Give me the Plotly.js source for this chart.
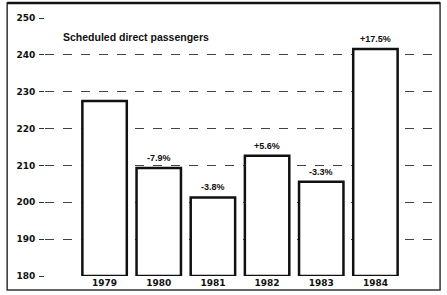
<!DOCTYPE html>
<html><head><meta charset="utf-8">
<script src="https://cdn.plot.ly/plotly-3.0.1.min.js"></script>
<style>html,body{margin:0;padding:0;background:#fff;}#c{width:447px;height:295px;}</style>
</head><body><div id="c"></div>
<script>
const years = ['1979','1980','1981','1982','1983','1984'];
const passengers = [227.5, 209.3, 201.3, 212.6, 205.6, 241.6];
const changeLabels = ['', '-7.9%', '-3.8%', '+5.6%', '-3.3%', '+17.5%'];
const yTicks = [180, 190, 200, 210, 220, 230, 240, 250];
const chartTitle = 'Scheduled direct passengers';
const axisBase = 180;

const font = {family: 'DejaVu Sans, Arial, sans-serif', color: '#111'};
const trace = {
  type: 'bar', x: years, base: axisBase, y: passengers.map(v => v - axisBase), width: 0.82,
  marker: {color: '#fff', line: {color: '#111', width: 2.5}},
  hoverinfo: 'skip'
};
const annotations = [];
years.forEach((yr, i) => {
  if (!changeLabels[i]) return;
  annotations.push({x: i, y: passengers[i], text: '<b>' + changeLabels[i] + '</b>', showarrow: false,
    yanchor: 'bottom', yshift: 3, font: {family: 'Liberation Sans Narrow, Arial Narrow, sans-serif', color: '#111', size: 9}});
});
annotations.push({xref: 'paper', yref: 'paper', x: 0.04, y: 0.926, xanchor: 'left', yanchor: 'middle',
  text: '<b>' + chartTitle + '</b>', showarrow: false,
  font: {family: 'Liberation Sans Narrow, Arial Narrow, sans-serif', color: '#111', size: 10.5}});

const layout = {
  width: 447, height: 295,
  margin: {l: 45, r: 12, t: 18, b: 19},
  paper_bgcolor: '#fff', plot_bgcolor: '#fff',
  showlegend: false,
  xaxis: {type: 'category', range: [-1.1, 6.1], showgrid: false, zeroline: false, showline: false,
    ticks: '', tickfont: {...font, size: 9, weight: 'bold'}},
  yaxis: {range: [180, 250], tickvals: yTicks, ticktext: yTicks.map(String), showgrid: true,
    gridcolor: '#444', griddash: 'dash', gridwidth: 1, zeroline: false, showline: false,
    ticks: 'outside', ticklen: 5, tickcolor: '#333', ticklabelstandoff: 2,
    tickfont: {...font, size: 9, weight: 'bold'}},
  annotations: annotations,
  shapes: [
    {type: 'rect', xref: 'paper', yref: 'paper', x0: -0.097, x1: 1.013, y0: -0.054, y1: 1.058,
      line: {color: '#333', width: 1.5}, layer: 'below'},
    {type: 'line', xref: 'paper', yref: 'paper', x0: -0.097, x1: 1.013, y0: 1.058, y1: 1.058,
      line: {color: '#111', width: 2.5}}
  ]
};
Plotly.newPlot('c', [trace], layout, {displayModeBar: false, staticPlot: true});
</script></body></html>
